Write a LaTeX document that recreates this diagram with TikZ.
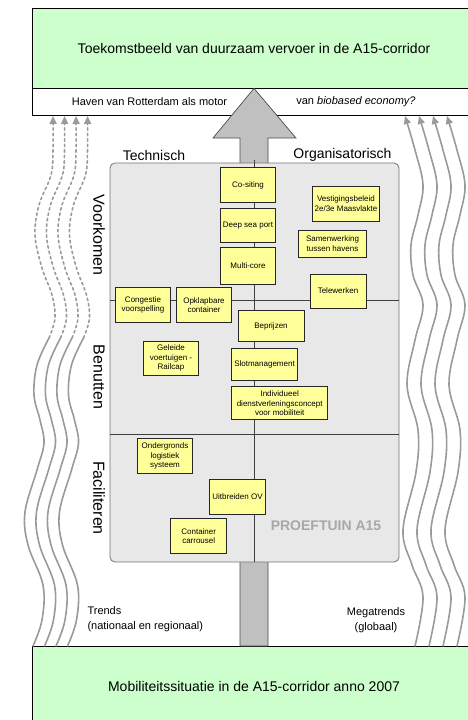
\documentclass[tikz,border=0pt]{standalone}
\usepackage{fontspec}
\setmainfont{Liberation Sans}
\usetikzlibrary{arrows.meta}

\definecolor{visiegroen}{HTML}{CCFFCC}
\definecolor{ideegeel}{HTML}{FFFF99}
\definecolor{tuingrijs}{HTML}{E8E8E8}
\definecolor{pijlgrijs}{HTML}{C0C0C0}
\definecolor{golfgrijs}{HTML}{9A9A9A}
\definecolor{labelgrijs}{HTML}{A8A8A8}

\begin{document}
\begin{tikzpicture}[x=1pt,y=-1pt,
  every node/.style={font=\fontsize{8}{9.5}\selectfont},
  kader/.style={draw,line width=0.8pt,minimum width=444pt,inner sep=0pt},
  idee/.style={draw=black!85,fill=ideegeel,line width=0.7pt,align=center,inner sep=1pt,minimum width=55pt,minimum height=35pt},
  kop/.style={font=\fontsize{14}{16}\selectfont},
  klein/.style={font=\fontsize{11}{15}\selectfont},
  rij/.style={font=\fontsize{16}{18}\selectfont,rotate=-90},
  golf/.style={draw=golfgrijs,line width=1.6pt,line cap=round},
  tip/.style={-{Triangle[length=8pt,width=7pt]}}]
  \clip (0,0) rectangle (468,720);
  % toekomstbeeld en huidige situatie
  \node[kader,fill=visiegroen,minimum height=80pt,kop] (visie) at (254,48) {Toekomstbeeld van duurzaam vervoer in de A15-corridor};
  \node[kader,fill=white,minimum height=27pt] (motor) at (254,101.5) {};
  \node[klein] (havenlinks) at (149.5,101.5) {Haven van Rotterdam als motor};
  \node[klein] (havenrechts) at (356,101.5) {van \textit{biobased economy?}};
  \node[kader,fill=visiegroen,minimum height=81pt,kop] (huidig) at (254,686.5) {Mobiliteitssituatie in de A15-corridor anno 2007};
  % grote pijl
  \draw[fill=pijlgrijs,draw=black!70,line width=0.7pt] (240,646) -- (240,138) -- (213,138) -- (visie.south) -- (296,138) -- (268,138) -- (268,646) -- cycle;
  % proeftuin
  \node[draw=black!55,fill=tuingrijs,rounded corners=5pt,line width=0.8pt,minimum width=289pt,minimum height=399pt] (tuin) at (254.5,362.5) {};
  \draw[black!75,line width=0.8pt] (110,300) -- (399,300);
  \draw[black!75,line width=0.8pt] (110,434) -- (399,434);
  \draw[black!75,line width=0.8pt] (254.5,160) -- (tuin.south);
  \node[kop] (technisch) at (154,155) {Technisch};
  \node[kop] (organisatorisch) at (342.5,155) {Organisatorisch};
  \node[rij] (voorkomen) at (99,235) {Voorkomen};
  \node[rij] (benutten) at (99,377) {Benutten};
  \node[rij] (faciliteren) at (99,498) {Faciliteren};
  \node[font=\bfseries\fontsize{14}{16}\selectfont,text=labelgrijs] (proeftuin) at (326,526) {PROEFTUIN A15};
  % maatregelen
  \node[idee] (cositing) at (248,185) {Co-siting};
  \node[idee,minimum height=34pt] (deepsea) at (248,225.5) {Deep sea port};
  \node[idee,minimum height=37pt] (multicore) at (248,266) {Multi-core};
  \node[idee,minimum width=67pt] (vestiging) at (346,203.5) {Vestigingsbeleid\\2e/3e Maasvlakte};
  \node[idee,minimum width=68pt,minimum height=27pt] (samenwerking) at (332.5,243.7) {Samenwerking\\tussen havens};
  \node[idee,minimum width=56pt,minimum height=34pt] (telewerken) at (338,291) {Telewerken};
  \node[idee] (congestie) at (143,305) {Congestie\\voorspelling};
  \node[idee] (opklapbaar) at (204,305) {Opklapbare\\container};
  \node[idee,minimum width=66pt,minimum height=31pt] (beprijzen) at (271,326) {Beprijzen};
  \node[idee,minimum height=34pt] (geleide) at (171,358) {Geleide\\voertuigen -\\Railcap};
  \node[idee,minimum width=66pt,minimum height=32pt] (slot) at (264.5,364.5) {Slotmanagement};
  \node[idee,minimum width=96pt,minimum height=33pt] (individueel) at (279.7,403.3) {Individueel\\dienstverleningsconcept\\voor mobiliteit};
  \node[idee] (ondergronds) at (165,456) {Ondergronds\\logistiek\\systeem};
  \node[idee,minimum width=56pt] (uitbreiden) at (237.5,497) {Uitbreiden OV};
  \node[idee,minimum width=56pt] (carrousel) at (198.7,536) {Container\\carrousel};
  % trends
  \node[klein,align=left,anchor=north west] (trends) at (84,603) {Trends\\(nationaal en regionaal)};
  \node[klein,align=center,anchor=north] (megatrends) at (376,604) {Megatrends\\(globaal)};
  \foreach \d in {0,11.5,23,34.5} {
    \draw[golf,xshift=\d pt] plot[smooth,tension=0.6] coordinates {(33,646) (42,620) (43,585) (28,545) (25,512) (37,470) (44,443) (40,420) (34,395) (37,365) (49,338)};
    \draw[golf,tip,dash pattern=on 2.5pt off 3pt,xshift=\d pt] plot[smooth,tension=0.6] coordinates {(49,338) (55,318) (52,295) (42,268) (35,235) (39,205) (51,175) (53,150) (53,116)};
  }
  \foreach \d in {0,14,28,42} {
    \draw[golf,tip,xshift=\d pt] plot[smooth,tension=0.6] coordinates {(415,646) (423,597) (412,565) (403,530) (416,472) (418,430) (407,385) (415,340) (423,305) (413,275) (411,245) (418,215) (423,185) (415,150) (405,116)};
  }
\end{tikzpicture}
\end{document}
